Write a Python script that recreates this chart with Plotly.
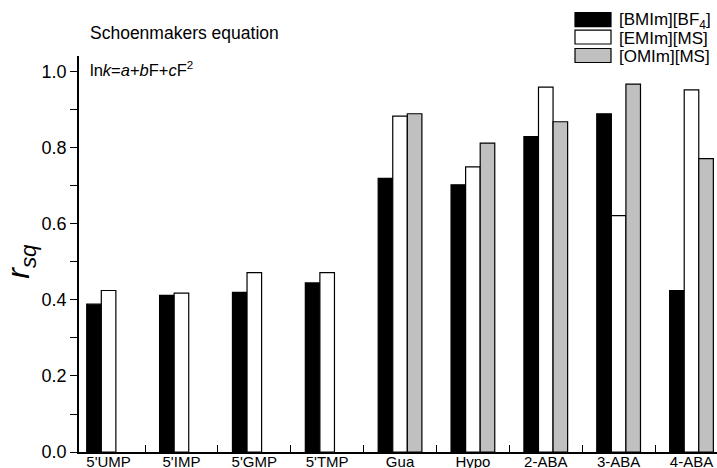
import plotly.graph_objects as go

categories = ["5'UMP", "5'IMP", "5'GMP", "5'TMP", "Gua", "Hypo", "2-ABA", "3-ABA", "4-ABA"]
series_names = ["[BMIm][BF<sub>4</sub>]", "[EMIm][MS]", "[OMIm][MS]"]
bmim_bf4 = [0.389, 0.412, 0.420, 0.445, 0.720, 0.703, 0.830, 0.890, 0.425]
emim_ms = [0.425, 0.418, 0.472, 0.472, 0.884, 0.750, 0.960, 0.622, 0.953]
omim_ms = [None, None, None, None, 0.890, 0.813, 0.869, 0.968, 0.772]
series_values = [bmim_bf4, emim_ms, omim_ms]
fill_colors = ["#000000", "#FFFFFF", "#C0C0C0"]
y_ticks = [0.0, 0.2, 0.4, 0.6, 0.8, 1.0]

W, H = 717, 468
ML, MR, MT, MB = 79, 0, 56, 15.5
PW, PH = W - ML - MR, H - MT - MB

def px(x):
    return (x - ML) / PW

def py(y):
    return (H - MB - y) / PH

fig = go.Figure()
for name, vals, col in zip(series_names, series_values, fill_colors):
    fig.add_trace(go.Bar(
        x=categories, y=vals, name=name,
        marker=dict(color=col, line=dict(color="black", width=1.2)),
        showlegend=False,
    ))

font_family = "Liberation Sans, Arial, sans-serif"

fig.update_layout(
    width=W, height=H,
    margin=dict(l=ML, r=MR, t=MT, b=MB, autoexpand=False),
    paper_bgcolor="white", plot_bgcolor="white",
    barmode="group", bargap=0.4, bargroupgap=0,
    font=dict(family=font_family, color="black"),
    xaxis=dict(
        range=[-0.406, 8.35], showgrid=False, zeroline=False, automargin=False,
        showline=True, linecolor="black", linewidth=1.5,
        ticks="inside", tickson="boundaries", ticklen=7, tickwidth=1.3, tickcolor="black",
        tickfont=dict(size=15, family=font_family), ticklabelstandoff=-5,
    ),
    yaxis=dict(
        range=[0, 1.042], showgrid=False, zeroline=False, automargin=False,
        showline=True, linecolor="black", linewidth=1.5,
        tickmode="array", tickvals=y_ticks, ticktext=[f"{v:.1f}" for v in y_ticks],
        ticks="outside", ticklen=7, tickwidth=1.3, tickcolor="black",
        tickfont=dict(size=18, family=font_family),
        minor=dict(ticks="outside", ticklen=7, tickwidth=1.3, tickcolor="black", dtick=0.1, tick0=0),
    ),
)

# y axis title
fig.add_annotation(xref="paper", yref="paper", x=px(21), y=py(262),
                   text="<i>r</i><sub><i>sq</i></sub>", showarrow=False,
                   textangle=-90, font=dict(size=32, family=font_family),
                   xanchor="center", yanchor="middle")

# in-plot text
fig.add_annotation(xref="paper", yref="paper", x=px(88), y=py(33),
                   text="Schoenmakers equation", showarrow=False,
                   font=dict(size=17.5, family=font_family), xanchor="left", yanchor="middle")
fig.add_annotation(xref="paper", yref="paper", x=px(88), y=py(69),
                   text="ln<i>k</i>=<i>a</i>+<i>b</i>F+<i>c</i>F<sup>2</sup>", showarrow=False,
                   font=dict(size=16.5, family=font_family), xanchor="left", yanchor="middle")

# manual legend
row_centers = [19.5, 37, 55.5]
for name, col, yc in zip(series_names, fill_colors, row_centers):
    fig.add_shape(type="rect", xref="paper", yref="paper",
                  x0=px(575), x1=px(611), y0=py(yc + 7), y1=py(yc - 7),
                  fillcolor=col, line=dict(color="black", width=1.2))
    fig.add_annotation(xref="paper", yref="paper", x=px(617), y=py(yc + 1),
                       text=name, showarrow=False,
                       font=dict(size=17, family=font_family), xanchor="left", yanchor="middle")

fig.write_html("out.html")
